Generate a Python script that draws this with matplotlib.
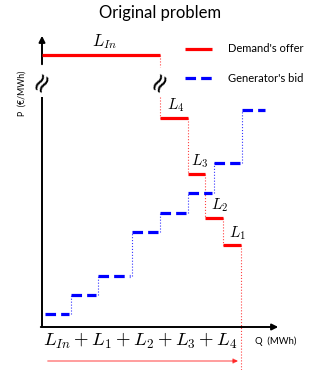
import numpy as np
import matplotlib.pyplot as plt

plt.rcParams['mathtext.fontset'] = 'cm'

# demand offer: block boundaries on Q and block prices
demand_q = [0.0, 11.8, 14.6, 16.3, 18.1, 19.9]
demand_p = [27.2, 20.9, 15.3, 10.9, 8.2]
demand_lbl = [r'$L_{In}$', r'$L_4$', r'$L_3$', r'$L_2$', r'$L_1$']
lbl_x = [6.3, 13.4, 15.8, 17.8, 19.5]

# generator bid
bid_q = [0.3, 2.9, 5.6, 9.0, 11.8, 14.6, 17.2, 20.0, 22.5]
bid_p = [1.3, 3.2, 5.1, 9.5, 11.4, 13.4, 16.4, 21.7]

brk_lo, brk_hi = 23.0, 26.0   # broken part of the P axis

red = '#ff0000'
blue = '#0000ff'

fig = plt.figure(figsize=(3.2, 3.7), dpi=100)
ax = fig.add_axes([0, 0, 1, 1])
ax.set_xlim(-4.2, 27.8)
ax.set_ylim(-4.3, 32.7)
ax.axis('off')

# axes with arrows
ax.annotate('', xy=(23.9, 0), xytext=(-0.4, 0),
            arrowprops=dict(arrowstyle='-|>', color='black', lw=1.4, mutation_scale=9))
ax.plot([0, 0], [0, brk_lo], color='black', lw=1.4, solid_capstyle='butt')
ax.annotate('', xy=(0, 29.4), xytext=(0, brk_hi),
            arrowprops=dict(arrowstyle='-|>', color='black', lw=1.4, mutation_scale=9))

# demand blocks
for i in range(len(demand_p)):
    ax.plot([demand_q[i], demand_q[i + 1]], [demand_p[i], demand_p[i]],
            color=red, lw=2.3, solid_capstyle='butt', zorder=3)
    ax.text(lbl_x[i], demand_p[i] + 0.35, demand_lbl[i], ha='center', va='bottom',
            fontsize=11 if i else 12)
# dotted connectors
for i in range(1, len(demand_p)):
    top, bot = demand_p[i - 1], demand_p[i]
    if i == 1:
        ax.plot([demand_q[i]] * 2, [top, brk_hi], color=red, lw=0.8, ls=':', alpha=0.75)
        ax.plot([demand_q[i]] * 2, [brk_lo, bot], color=red, lw=0.8, ls=':', alpha=0.75)
    else:
        ax.plot([demand_q[i]] * 2, [top, bot], color=red, lw=0.8, ls=':', alpha=0.75)
ax.plot([demand_q[-1]] * 2, [demand_p[-1], -4.3], color=red, lw=0.8, ls=':', alpha=0.75)

# break marks
for xb in [0, demand_q[1]]:
    ax.text(xb, (brk_lo + brk_hi) / 2, '≈', rotation=60, ha='center', va='center',
            fontsize=19, color='black', family=['DejaVu Sans'])

# generator bid blocks
for i in range(len(bid_p)):
    ax.plot([bid_q[i], bid_q[i + 1] - 0.2], [bid_p[i], bid_p[i]],
            color=blue, lw=2.3, dashes=(3.3, 1.6), dash_capstyle='butt', zorder=3)
    if i > 0:
        ax.plot([bid_q[i]] * 2, [bid_p[i - 1], bid_p[i]], color=blue, lw=0.8, ls=':', alpha=0.8)

# bottom sum and arrow
ax.text(9.8, -1.4, r'$L_{In}+L_1+L_2+L_3+L_4$', ha='center', va='center', fontsize=13.5)
ax.annotate('', xy=(demand_q[-1], -3.4), xytext=(0.3, -3.4),
            arrowprops=dict(arrowstyle='-|>', color=red, lw=0.9, alpha=0.6, mutation_scale=7))

# labels
ax.text(21.3, -1.4, 'Q  (MWh)', fontsize=6.8, ha='left', va='center', family='Lato')
ax.text(-2.0, 23.4, 'P  (€/MWh)', fontsize=6.3, rotation=90, ha='center', va='center',
        family='Lato')
ax.text(11.8, 31.4, 'Original problem', fontsize=12, ha='center', va='center', family='Lato')

# legend
ax.plot([14.3, 17.0], [27.8, 27.8], color=red, lw=2.3, solid_capstyle='butt')
ax.text(18.6, 27.8, "Demand's offer", fontsize=8, va='center', family='Lato')
ax.plot([14.3, 17.0], [24.9, 24.9], color=blue, lw=2.3, dashes=(3.3, 1.6), dash_capstyle='butt')
ax.text(18.6, 24.9, "Generator's bid", fontsize=8, va='center', family='Lato')

fig.savefig('out.png', dpi=100)
